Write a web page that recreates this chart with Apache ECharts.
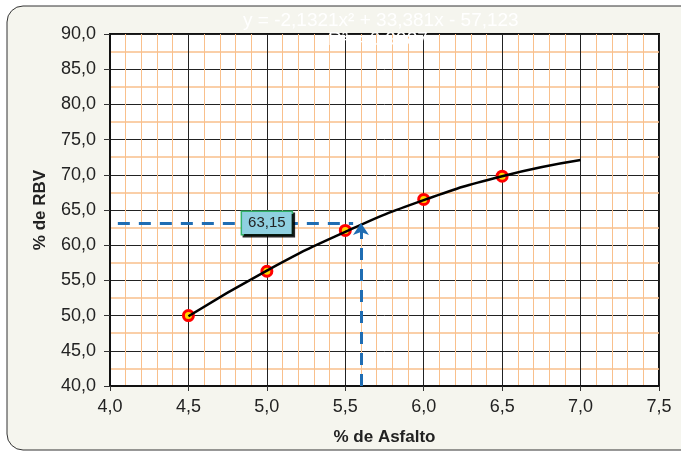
<!DOCTYPE html>
<html>
<head>
<meta charset="utf-8">
<script src="https://cdn.jsdelivr.net/npm/echarts@6/dist/echarts.min.js"></script>
<style>
  html, body { margin: 0; padding: 0; background: #ffffff; }
  #chart { width: 681px; height: 453px; }
</style>
</head>
<body>
<div id="chart"></div>
<script>
// measured points (% asphalt vs % RBV)
const asphalt = [4.5, 5.0, 5.5, 6.0, 6.5];
const rbv = [50.0, 56.3, 62.1, 66.5, 69.8];

// trend curve
const trendX = [4.5, 5.0, 5.5, 6.0, 6.5, 7.0];
const trendY = [49.9, 56.4, 61.9, 66.4, 69.8, 72.1];

// design value
const designX = 5.6;
const designY = 63.15;

const fmt = (v) => v.toFixed(1).replace('.', ',');
const FONT = '"Liberation Sans", Arial, sans-serif';

const chart = echarts.init(document.getElementById('chart'), null, { renderer: 'canvas' });

const option = {
  backgroundColor: 'transparent',
  animation: false,
  graphic: [
    {
      type: 'rect',
      z: -10,
      shape: { x: 7, y: 6, width: 690, height: 444, r: 16 },
      style: { fill: '#f5f5ee', stroke: '#333', lineWidth: 1 },
    },
    {
      type: 'text',
      z: 100,
      left: 243,
      top: 11,
      style: {
        text: 'y = -2,1321x² + 33,381x - 57,123',
        fill: '#ffffff',
        font: '19px ' + FONT,
      },
    },
    {
      type: 'text',
      z: 100,
      left: 328,
      top: 30,
      style: {
        text: 'R² = 0,9987',
        fill: '#ffffff',
        font: '19px ' + FONT,
      },
    },
  ],
  grid: {
    left: 110,
    right: 22,
    top: 34,
    bottom: 67,
    outerBoundsMode: 'none',
    containLabel: false,
    show: true,
    backgroundColor: '#ffffff',
    borderColor: '#111',
    borderWidth: 2,
  },
  xAxis: {
    type: 'value',
    min: 4.0,
    max: 7.5,
    interval: 0.5,
    name: '% de Asfalto',
    nameLocation: 'middle',
    nameGap: 43,
    nameTextStyle: { fontSize: 17, fontWeight: 'bold', color: '#222', fontFamily: FONT },
    axisLine: { show: true, lineStyle: { color: '#111', width: 2 } },
    axisTick: { show: true, length: 5, lineStyle: { color: '#333' } },
    axisLabel: { formatter: fmt, fontSize: 18, color: '#222', margin: 12, fontFamily: FONT },
    splitLine: { show: true, lineStyle: { color: '#222', width: 1 } },
    minorTick: { show: false, splitNumber: 5 },
    minorSplitLine: { show: true, lineStyle: { color: '#f9c08c', width: 1 } },
  },
  yAxis: {
    type: 'value',
    min: 40,
    max: 90,
    interval: 5,
    name: '% de RBV',
    nameLocation: 'middle',
    nameGap: 61,
    nameTextStyle: { fontSize: 17, fontWeight: 'bold', color: '#222', fontFamily: FONT },
    axisLine: { show: true, lineStyle: { color: '#111', width: 2 } },
    axisTick: { show: true, length: 6, lineStyle: { color: '#333' } },
    axisLabel: { formatter: fmt, fontSize: 18, color: '#222', margin: 14, fontFamily: FONT },
    splitLine: { show: true, lineStyle: { color: '#222', width: 1 } },
    minorTick: { show: false, splitNumber: 2 },
    minorSplitLine: { show: true, lineStyle: { color: '#f9c08c', width: 1.5 } },
  },
  series: [
    {
      type: 'scatter',
      name: 'points',
      data: asphalt.map((x, i) => [x, rbv[i]]),
      symbol: 'circle',
      symbolSize: 10,
      itemStyle: { color: '#ffd400', borderColor: '#ff0000', borderWidth: 3, opacity: 1 },
      z: 2,
    },
    {
      type: 'line',
      name: 'trend',
      data: trendX.map((x, i) => [x, trendY[i]]),
      smooth: true,
      showSymbol: false,
      lineStyle: { color: '#000', width: 2.5 },
      z: 3,
      markLine: {
        silent: true,
        symbol: ['none', 'none'],
        label: { show: false },
        lineStyle: { color: '#1f6db3', width: 3, type: [12, 9] },
        data: [
          [{ coord: [4.05, designY] }, { coord: [designX - 0.05, designY] }],
        ],
      },
    },
    {
      type: 'line',
      name: 'vertical',
      data: [],
      z: 3,
      markLine: {
        silent: true,
        symbol: ['none', 'arrow'],
        symbolSize: [12, 12],
        label: { show: false },
        lineStyle: { color: '#1f6db3', width: 3, type: [12, 9] },
        data: [
          [{ coord: [designX, 40] }, { coord: [designX, designY] }],
        ],
      },
    },
    {
      type: 'scatter',
      name: 'label',
      data: [[5.0, designY]],
      symbolSize: 0,
      itemStyle: { opacity: 1 },
      z: 6,
      label: {
        show: true,
        position: 'inside',
        formatter: () => designY.toFixed(2).replace('.', ','),
        fontSize: 15,
        color: '#222',
        fontFamily: FONT,
        backgroundColor: '#8fd0e0',
        borderColor: '#33b36b',
        borderWidth: 1.5,
        padding: [4, 6, 3, 6],
        shadowColor: 'rgba(0,0,0,0.85)',
        shadowOffsetX: 2,
        shadowOffsetY: 2,
        shadowBlur: 0,
      },
    },
  ],
};

chart.setOption(option);
</script>
</body>
</html>
